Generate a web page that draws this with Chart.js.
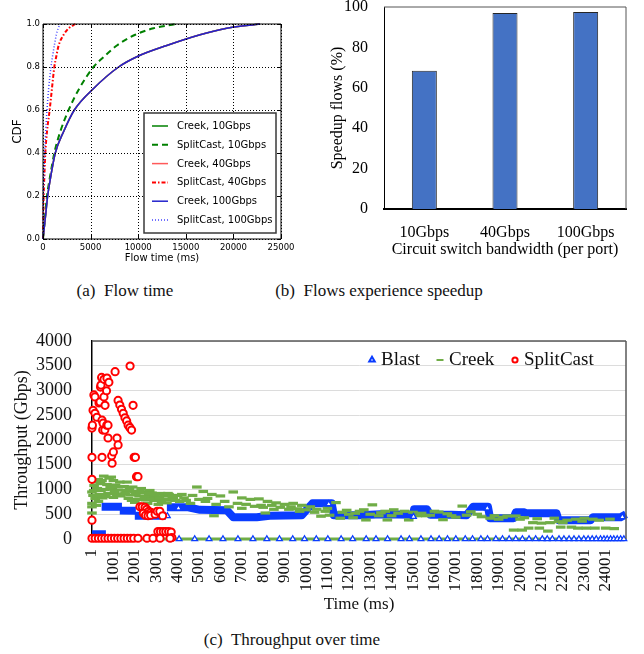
<!DOCTYPE html>
<html><head><meta charset="utf-8">
<script src="https://cdn.jsdelivr.net/npm/chart.js@4.4.1/dist/chart.umd.min.js"></script>
<style>
html,body{margin:0;padding:0;background:#fff;width:644px;height:654px;overflow:hidden;}
canvas{position:absolute;}
.cap{position:absolute;font-family:"Liberation Serif","Times New Roman",serif;font-size:17px;color:#111;white-space:pre;transform:translate(-50%,-50%);}
</style></head><body>
<canvas id="ca" width="300" height="270" style="left:0;top:0"></canvas>
<canvas id="cb" width="344" height="270" style="left:300px;top:0"></canvas>
<canvas id="cc" width="644" height="290" style="left:0;top:330px"></canvas>
<div class="cap" style="left:125px;top:291px">(a)  Flow time</div>
<div class="cap" style="left:379px;top:291px">(b)  Flows experience speedup</div>
<div class="cap" style="left:292px;top:640px">(c)  Throughput over time</div>
<script>
// ---------- (a) CDF of flow time ----------
const cdfLevels        = [0, 0.1, 0.2, 0.3, 0.4, 0.5, 0.6, 0.7, 0.8, 0.85, 0.9, 0.95, 0.98, 1.0];
const creekFlowTime    = [0, 250, 490, 850, 1290, 2170, 3290, 5310, 7940, 9970, 13000, 16500, 19300, 22800];
const splitcast10Time  = [0, 200, 420, 780, 1190, 1820, 2690, 3810, 5310, 6450, 7760, 9690, 11600, 14000];
const splitcast40Time  = [0, 30, 70, 150, 245, 420, 700, 940, 1190, 1400, 1640, 2170, 2700, 3400];
const splitcast100Time = [0, 15, 35, 100, 175, 280, 420, 595, 840, 1000, 1190, 1400, 1600, 1800];
const cdfXTicks = [0, 5000, 10000, 15000, 20000, 25000];
const cdfYTicks = [0, 0.2, 0.4, 0.6, 0.8, 1.0];

// ---------- (b) Flows experiencing speedup ----------
const bandwidths = ['10Gbps', '40Gbps', '100Gbps'];
const speedupPct = [68.5, 97, 97.5];

// ---------- (c) Throughput over time ----------
const timeTicks = [1,1001,2001,3001,4001,5001,6001,7001,8001,9001,10001,11001,12001,13001,14001,15001,16001,17001,18001,19001,20001,21001,22001,23001,24001];
const splitcastT = [0,0,0,0,20,50,90,140,140,230,330,375,400,420,450,470,470,500,520,560,560,600,610,680,690,700,750,750,790,920,940,1000,1080,1170,1220,1220,1300,1380,1460,1540,1620,1690,1770,1780,1850,1920,1970,2030,2080,2150,
  2240,2350,2480,2560,2650,2750,2850,2400,2500,2620,2740,2950,3050,3170,3300,
  3080,3200,3330,3450,3580,3700,3730,
  0,150,300,450,600,750,900,1050,1200,1350,1500,1650,1800,1950,2150,2570,2850,3180,3650];
const splitcastY = [380,1205,1650,2240,2300,2600,2910,2540,2870,2460,2750,2770,3070,3110,3265,2400,1650,2200,2340,3225,2870,2200,2700,2995,2300,3250,2040,2300,3165,1680,1530,1760,3380,2040,1900,2800,2705,2620,2540,2450,2385,2300,2250,3495,2200,2700,1650,1650,1260,1260,
  650,650,640,600,560,540,520,520,480,470,480,500,560,560,470,
  150,150,150,150,150,140,30,
  15,15,15,15,15,15,15,15,15,15,15,15,15,15,15,15,15,15,15];

const creekT = [0,0,0,0,50,100,150,200,250,300,300,350,400,500,550,600,700,750,800,900,950,1000,1000,1100,1150,1250,1300,1450,1500,1600,1640,1700,1800,1900,2000,2000,2100,2200,2300,2400,2500,2600,2600,2700,2800,2900,3000,3100,3200,3300,3400,3500,3600,3700,3800,4000,4100,4300,
  80,180,260,420,470,650,850,1050,1200,1350,1550,1750,1850,2050,2250,2450,2650,2750,2950,3150,3250,3450,3550,3750,3900,4200,4400,
  4600,4900,5200,5300,5600,5700,5800,6000,6400,6600,7000,7000,7400,7600,7800,8000,8100,8200,8500,8600,9000,9200,9400,9700,9800,10200,10500,10700,10900,11100,11400,11600,11900,12200,12300,12700,12800,13100,13400,13500,13800,14000,14100,14600,14800,15000,15400,15600,15800,16200,16400,16600,17000,
  4700,5000,5400,6200,6800,7200,7900,8400,8800,9300,9600,10000,10400,11000,11700,12000,12500,13000,13700,14300,15200,16000,16800,
  17300,17700,18200,18600,19000,19400,19800,20200,20600,21000,21400,21800,22200,22600,23000,23400,19700,20100,20400,20900,21300,21900,22400,22700,23100,23500,24000,24400,
  17500,18000,18800,19200,20000,20800,21600,22000,22900,23700,24200];
const creekY = [525,650,720,950,880,1080,820,680,1020,1200,760,900,1120,830,1270,1000,1100,920,1230,1250,1010,840,1180,1090,900,990,1150,910,1060,980,1150,820,890,1050,960,740,800,870,1020,940,790,860,720,980,930,780,850,700,920,800,870,730,900,790,840,880,760,830,
  980,1150,880,980,1180,860,1050,960,1060,870,930,1000,780,900,960,840,920,800,900,830,740,800,920,860,780,900,780,
  720,1050,960,760,900,470,700,870,650,950,830,620,800,660,810,640,525,760,600,730,700,600,720,560,680,650,600,460,560,480,735,420,580,430,520,590,385,690,470,530,385,470,590,560,385,540,520,470,480,545,390,510,440,
  880,800,820,760,720,700,680,680,640,650,610,590,540,620,540,500,560,500,560,520,470,560,470,
  665,550,450,420,400,465,465,430,330,320,330,350,380,400,420,400,180,180,220,220,160,240,240,220,220,220,220,210,
  480,500,470,440,400,410,420,330,360,380,400];
const creekZeroT = [0, 24950];
const creekZeroY = [0, 0];

// Blast: dense runs of samples (drawn as thick bands), null = gap between runs
const blastBandT = [0,650,null,450,1400,null,1300,2050,null,2000,3450,null,3500,4500,5050,6300,6600,7700,8300,9800,10300,11200,11300,12500,13500,15000,15050,15650,15800,16800,17500,17800,18500,18600,19700,19800,20200,20300,21700,21800,23300,23400,24700,24950];
const blastBandY = [95,95,null,650,650,null,575,570,null,470,470,null,640,640,590,580,440,440,470,480,720,720,480,480,500,490,600,600,490,490,480,650,650,420,420,540,540,520,520,380,380,440,440,500];
// Blast: individual samples visible as triangles
const blastT = [1,610,1070,1540,2140,2940,3640,4070,4800,5470,6120,6820,7520,8170,8760,9380,9930,10480,11020,11640,12180,12810,13270,13810,14440,14830,15370,15840,16220,16610,17000,17440,17780,18170,18480,18870,19180,19490,19800,20110,20420,20730,21040,21270,21510,21820,22050,22290,22520,22750,22980,23180,23370,23560,23760,23920,24070,24230,24380,24540,24700,24850,
  4040,3520,11060,15020,18470,24780];
const blastY = [0,0,0,0,0,0,0,0,0,0,0,0,0,0,0,0,0,0,0,0,0,0,0,0,0,0,0,0,0,0,0,0,0,0,0,0,0,0,0,0,0,0,0,0,0,0,0,0,0,0,0,0,0,0,0,0,0,0,0,0,0,0,
  620,465,705,450,620,445];

// ---------- helpers ----------
const SANS = '"DejaVu Sans", sans-serif';
const SERIF = '"Liberation Serif", "Times New Roman", serif';
const pairs = (xs, ys) => xs.map((x, i) => ({x: x, y: ys[i]}));
const frame = (color, width, sides) => ({
  id: 'frame',
  afterDatasetsDraw(chart) {
    const {ctx, chartArea: a} = chart;
    ctx.save(); ctx.strokeStyle = color; ctx.lineWidth = width; ctx.setLineDash([]);
    ctx.beginPath();
    if (sides.includes('t')) { ctx.moveTo(a.left, a.top); ctx.lineTo(a.right, a.top); }
    if (sides.includes('r')) { ctx.moveTo(a.right, a.top); ctx.lineTo(a.right, a.bottom); }
    if (sides.includes('b')) { ctx.moveTo(a.left, a.bottom); ctx.lineTo(a.right, a.bottom); }
    if (sides.includes('l')) { ctx.moveTo(a.left, a.top); ctx.lineTo(a.left, a.bottom); }
    ctx.stroke(); ctx.restore();
  }
});
Chart.defaults.animation = false;

// ---------- chart (a) ----------
// grid, inward ticks and framed legend for (a), painted after the chart has been drawn
const gridAndLegendA = {
  id: 'gridAndLegendA',
  afterDraw(chart) {
    const ctx = chart.ctx, a = chart.chartArea, sx = chart.scales.x, sy = chart.scales.y;
    ctx.save();
    ctx.globalCompositeOperation = 'darken';
    ctx.lineWidth = 1;
    ctx.strokeStyle = '#000000';
    ctx.setLineDash([1, 2]);
    for (const v of cdfXTicks) {
      const px = Math.round(sx.getPixelForValue(v)) + 0.5;
      ctx.beginPath(); ctx.moveTo(px, a.top); ctx.lineTo(px, a.bottom); ctx.stroke();
    }
    for (const v of cdfYTicks) {
      const py = Math.round(sy.getPixelForValue(v)) + 0.5;
      ctx.beginPath(); ctx.moveTo(a.left, py); ctx.lineTo(a.right, py); ctx.stroke();
    }
    ctx.setLineDash([]);
    for (const v of cdfXTicks) {
      const px = Math.round(sx.getPixelForValue(v)) + 0.5;
      ctx.beginPath(); ctx.moveTo(px, a.bottom); ctx.lineTo(px, a.bottom - 4);
      ctx.moveTo(px, a.top); ctx.lineTo(px, a.top + 4); ctx.stroke();
    }
    for (const v of cdfYTicks) {
      const py = Math.round(sy.getPixelForValue(v)) + 0.5;
      ctx.beginPath(); ctx.moveTo(a.left, py); ctx.lineTo(a.left + 4, py);
      ctx.moveTo(a.right, py); ctx.lineTo(a.right - 4, py); ctx.stroke();
    }
    ctx.restore();

    const bx = a.right - 137, by = a.bottom - 126, bw = 132, bh = 120;
    ctx.save();
    ctx.fillStyle = '#fff'; ctx.fillRect(bx, by, bw, bh);
    ctx.strokeStyle = '#3a3a3a'; ctx.lineWidth = 1.5; ctx.strokeRect(bx, by, bw, bh);
    ctx.font = '10px ' + SANS; ctx.textBaseline = 'middle'; ctx.fillStyle = '#000';
    chart.data.datasets.forEach((ds, i) => {
      const y = by + 13 + i * 18.8;
      ctx.strokeStyle = ds.borderColor; ctx.lineWidth = ds.borderWidth;
      ctx.setLineDash(ds.borderDash || []);
      ctx.beginPath(); ctx.moveTo(bx + 8, y); ctx.lineTo(bx + 24, y); ctx.stroke();
      ctx.setLineDash([]);
      ctx.fillText(ds.label, bx + 33, y + 0.5);
    });
    ctx.restore();
  }
};
new Chart(document.getElementById('ca'), {
  type: 'scatter',
  data: { datasets: [
    {label: 'Creek, 10Gbps', data: pairs(creekFlowTime, cdfLevels), borderColor: '#008000', borderWidth: 1.5, order: 6},
    {label: 'SplitCast, 10Gbps', data: pairs(splitcast10Time, cdfLevels), borderColor: '#008000', borderWidth: 2, borderDash: [6, 4], order: 5},
    {label: 'Creek, 40Gbps', data: pairs(creekFlowTime, cdfLevels), borderColor: '#ff5a5a', borderWidth: 1.5, order: 4},
    {label: 'SplitCast, 40Gbps', data: pairs(splitcast40Time, cdfLevels), borderColor: '#ff0000', borderWidth: 2, borderDash: [4, 2, 1.5, 2], order: 3},
    {label: 'Creek, 100Gbps', data: pairs(creekFlowTime, cdfLevels), borderColor: '#2222cc', borderWidth: 1.5, order: 2},
    {label: 'SplitCast, 100Gbps', data: pairs(splitcast100Time, cdfLevels), borderColor: '#4040ff', borderWidth: 1.5, borderDash: [1, 2], order: 1}
  ].map(d => Object.assign(d, {showLine: true, pointRadius: 0, cubicInterpolationMode: 'monotone', clip: false})) },
  options: {
    responsive: false, devicePixelRatio: 1,
    layout: {padding: {top: 24, right: 19, left: 0, bottom: 0}},
    plugins: {legend: {display: false}, tooltip: {enabled: false}},
    scales: {
      x: {type: 'linear', min: 0, max: 25000,
        afterBuildTicks: s => { s.ticks = cdfXTicks.map(v => ({value: v})); },
        ticks: {font: {family: SANS, size: 8.5}, color: '#000', padding: 4, maxRotation: 0, callback: v => String(v)},
        grid: {display: false, drawTicks: false},
        border: {display: false},
        title: {display: true, text: 'Flow time (ms)', font: {family: SANS, size: 10}, color: '#000', padding: {top: 0, bottom: 6}},
        afterFit: s => { s.height = 31; s.paddingLeft = 0; s.paddingRight = 0; }},
      y: {min: 0, max: 1,
        afterBuildTicks: s => { s.ticks = cdfYTicks.map(v => ({value: v})); },
        ticks: {font: {family: SANS, size: 8.5}, color: '#000', padding: 3, callback: v => v.toFixed(1)},
        grid: {display: false, drawTicks: false},
        border: {display: false},
        title: {display: true, text: 'CDF', font: {family: SANS, size: 12}, color: '#000', padding: {top: 11}},
        afterFit: s => { s.width = 43; s.paddingTop = 0; s.paddingBottom = 0; }}
    }
  },
  plugins: [frame('#000', 1, 'trbl'), gridAndLegendA]
});

// ---------- chart (b) ----------
new Chart(document.getElementById('cb'), {
  type: 'bar',
  data: {labels: bandwidths, datasets: [{data: speedupPct, backgroundColor: '#4472C4', borderColor: '#262626', borderWidth: 1, categoryPercentage: 1, barPercentage: 0.31}]},
  options: {
    responsive: false, devicePixelRatio: 1,
    layout: {padding: {top: 7, right: 18, left: 0, bottom: 0}},
    plugins: {legend: {display: false}, tooltip: {enabled: false}},
    scales: {
      x: {grid: {display: false, drawTicks: false}, border: {display: true, color: '#000', width: 2},
        ticks: {font: {family: SERIF, size: 16}, color: '#000', padding: 14},
        title: {display: true, text: 'Circuit switch bandwidth (per port)', font: {family: SERIF, size: 16}, color: '#000', padding: {top: 0, bottom: 11}},
        afterFit: s => { s.height = 61; s.paddingLeft = 0; s.paddingRight = 0; }},
      y: {min: 0, max: 100,
        ticks: {stepSize: 20, font: {family: SERIF, size: 16}, color: '#000', padding: 16},
        grid: {display: false, drawTicks: false}, border: {display: true, color: '#000', width: 1},
        title: {display: true, text: 'Speedup flows (%)', font: {family: SERIF, size: 16}, color: '#000', padding: {top: 28}},
        afterFit: s => { s.width = 84; s.paddingTop = 0; s.paddingBottom = 0; }}
    }
  },
  plugins: [frame('#555', 1, 'tr')]
});

// ---------- chart (c) ----------
const BLUE = '#0a3cff', GREEN = '#70AD47', RED = '#ff0000';
const legendC = {
  id: 'legendC',
  afterDraw(chart) {
    const ctx = chart.ctx, a = chart.chartArea;
    const y = a.top + 18;
    const items = [
      {ds: chart.data.datasets[3], mx: 372, tx: 381, r: 3.2, w: 1},
      {ds: chart.data.datasets[2], mx: 440, tx: 449, r: 3.5, w: 2.5},
      {ds: chart.data.datasets[4], mx: 515, tx: 524, r: 2.6, w: 1}
    ];
    ctx.save();
    ctx.font = '19px ' + SERIF; ctx.textBaseline = 'middle';
    items.forEach(it => {
      const d = it.ds;
      ctx.strokeStyle = d.borderColor; ctx.fillStyle = '#fff';
      Chart.helpers.drawPoint(ctx, {pointStyle: d.pointStyle, radius: it.r, borderWidth: it.w, rotation: 0}, it.mx, y + 1);
      ctx.fillStyle = '#111';
      ctx.fillText(d.label, it.tx, y + 1);
    });
    ctx.restore();
  }
};
new Chart(document.getElementById('cc'), {
  type: 'scatter',
  data: {datasets: [
    {label: 'Blast runs', data: pairs(blastBandT, blastBandY), showLine: true, borderColor: BLUE, borderWidth: 8, borderJoinStyle: 'round', pointRadius: 0, spanGaps: false, clip: false, order: 5},
    {label: 'Creek zero', data: pairs(creekZeroT, creekZeroY), showLine: true, borderColor: GREEN, borderWidth: 3, pointRadius: 0, clip: false, order: 4},
    {label: 'Creek', data: pairs(creekT, creekY), pointStyle: 'line', pointRadius: 4.8, borderColor: GREEN, backgroundColor: GREEN, borderWidth: 3.2, clip: false, order: 3},
    {label: 'Blast', data: pairs(blastT, blastY), pointStyle: 'triangle', pointRadius: 3.3, borderColor: BLUE, backgroundColor: '#fff', borderWidth: 1.3, clip: false, order: 2},
    {label: 'SplitCast', data: pairs(splitcastT, splitcastY), pointStyle: 'circle', pointRadius: 3.6, borderColor: RED, backgroundColor: '#fff', borderWidth: 2, clip: false, order: 1}
  ]},
  options: {
    responsive: false, devicePixelRatio: 1,
    layout: {padding: {top: 11, right: 18, left: 0, bottom: 0}},
    plugins: {legend: {display: false}, tooltip: {enabled: false}},
    scales: {
      x: {type: 'linear', min: 1, max: 24950,
        afterBuildTicks: s => { s.ticks = timeTicks.map(v => ({value: v})); },
        ticks: {font: {family: SERIF, size: 17}, color: '#111', padding: 10, autoSkip: false, minRotation: 90, maxRotation: 90, callback: v => String(v)},
        grid: {display: false, drawTicks: false}, border: {display: true, color: '#bfbfbf', width: 1},
        title: {display: true, text: 'Time (ms)', font: {family: SERIF, size: 17}, color: '#111', padding: {top: 0, bottom: 5}},
        afterFit: s => { s.height = 81; s.paddingLeft = 0; s.paddingRight = 0; }},
      y: {min: 0, max: 4000,
        ticks: {stepSize: 500, font: {family: SERIF, size: 18}, color: '#111', padding: 20, callback: v => String(v)},
        grid: {color: '#dcdcdc', lineWidth: 1, drawTicks: false}, border: {display: true, color: '#000', width: 1.5},
        title: {display: true, text: 'Throughput (Gbps)', font: {family: SERIF, size: 18}, color: '#111', padding: {top: 11}},
        afterFit: s => { s.width = 92; s.paddingTop = 0; s.paddingBottom = 0; }}
    }
  },
  plugins: [frame('#595959', 1.5, 'tr'), legendC]
});
</script>
</body></html>
